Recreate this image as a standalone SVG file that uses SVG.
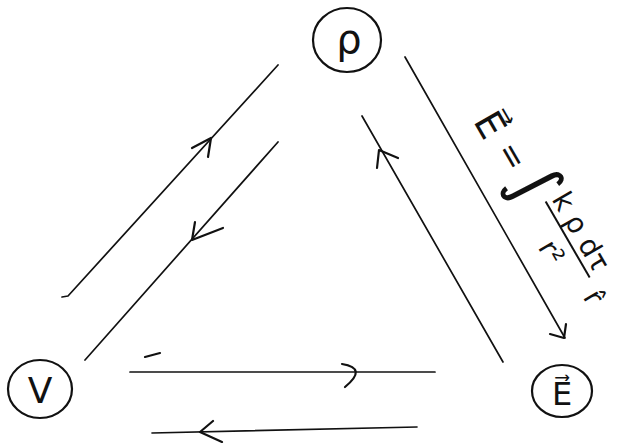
<svg xmlns="http://www.w3.org/2000/svg" width="619" height="443" viewBox="0 0 619 443">
<style>
.node{fill:none;stroke:#111;stroke-width:2.2}
.lbl{font-family:"DejaVu Sans","Liberation Sans",sans-serif;fill:#111;text-anchor:middle}
.ln{fill:none;stroke:#111;stroke-width:1.7;stroke-linecap:round;stroke-linejoin:round}
.ah{fill:none;stroke:#111;stroke-width:2.2;stroke-linecap:round;stroke-linejoin:round}
.f{font-family:"DejaVu Sans","Liberation Sans",sans-serif;fill:#111;text-anchor:middle}
</style>
<rect width="619" height="443" fill="#fff"/>
<g id="rho">
<ellipse class="node" cx="347" cy="40" rx="34" ry="32"/>
<text class="lbl" x="349" y="53" font-size="40">ρ</text>
</g>
<g id="V">
<ellipse class="node" cx="40" cy="389" rx="32" ry="29"/>
<text class="lbl" x="40" y="403" font-size="36">V</text>
</g>
<g id="E">
<ellipse class="node" cx="562" cy="391" rx="30" ry="26"/>
<text class="lbl" x="562" y="405" font-size="32">E⃗</text>
</g>
<g id="connectors">
<path class="ln" d="M62,297 L68,296 L278,65"/>
<polyline class="ah" points="192,148 211,138 208,157"/>
<path class="ln" d="M85,360 L278,142"/>
<polyline class="ah" points="195,222 192,240 223,228"/>
<path class="ln" d="M362,116 L503,362"/>
<polyline class="ah" points="377,168 379,150 398,158"/>
<path class="ln" d="M405,57 L565,338"/>
<polyline class="ah" points="550,334 564,338 566,324"/>
<path class="ln" d="M130,372 L435,372"/>
<path class="ah" d="M342,364 Q368,368 345,387"/>
<path class="ln" d="M152,433 L417,427"/>
<polyline class="ah" points="213,421 200,432 222,442"/>
<path class="ah" d="M145,357 L160,353"/>
</g>
<g id="formula" transform="translate(490,125) rotate(60)">
<text class="f" x="0" y="13" font-size="38">E⃗</text>
<text class="f" x="38" y="7" font-size="32">=</text>
<text class="f" x="74" y="12" font-size="66">∫</text>
<text class="f" x="138" y="-16" font-size="28">k ρ dτ</text>
<line x1="94" y1="-10" x2="182" y2="-10" stroke="#111" stroke-width="2"/>
<text class="f" x="141" y="20" font-size="28">r²</text>
<text class="f" x="201" y="6" font-size="28">r̂</text>
</g>
</svg>
